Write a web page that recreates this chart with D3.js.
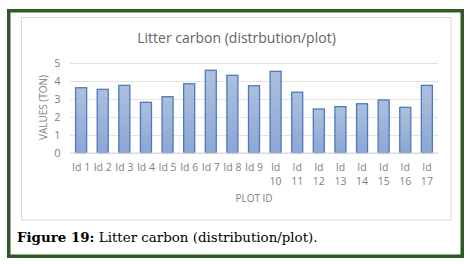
<!DOCTYPE html>
<html>
<head>
<meta charset="utf-8">
<script src="https://cdn.jsdelivr.net/npm/d3@7"></script>
<style>
  html, body { margin: 0; padding: 0; background: #fff; }
  svg { display: block; }
</style>
</head>
<body>
<svg id="chart" width="471" height="264"></svg>
<script>
const categories = ["Id 1","Id 2","Id 3","Id 4","Id 5","Id 6","Id 7","Id 8","Id 9","Id 10","Id 11","Id 12","Id 13","Id 14","Id 15","Id 16","Id 17"];
const values = [3.61, 3.52, 3.74, 2.80, 3.11, 3.83, 4.58, 4.30, 3.72, 4.52, 3.36, 2.43, 2.56, 2.72, 2.93, 2.52, 3.74];
const yTicks = [0, 1, 2, 3, 4, 5];
const chartTitle = "Litter carbon (distrbution/plot)";
const xTitle = "PLOT ID";
const yTitle = "VALUES (TON)";
const captionBold = "Figure 19:";
const captionText = " Litter carbon (distribution/plot).";

const svg = d3.select("#chart");

// outer green frame
svg.append("rect").attr("x", 8.75).attr("y", 10.75).attr("width", 453.5).attr("height", 245.5)
  .attr("fill", "#fff").attr("stroke", "#2f5a28").attr("stroke-width", 3.5);

// chart area box
svg.append("rect").attr("x", 21.5).attr("y", 17.5).attr("width", 429.5).attr("height", 202.5)
  .attr("fill", "#fff").attr("stroke", "#d9d9d9").attr("stroke-width", 1);

const x = d3.scaleBand().domain(categories).range([70, 438]).paddingInner(0.49).paddingOuter(0.26);
const y = d3.scaleLinear().domain([0, 5]).range([152.7, 62.7]);

const defs = svg.append("defs");
const grad = defs.append("linearGradient").attr("id", "barGrad").attr("x1", 0).attr("y1", 0).attr("x2", 0).attr("y2", 1);
grad.append("stop").attr("offset", "0%").attr("stop-color", "#adbfdd");
grad.append("stop").attr("offset", "100%").attr("stop-color", "#8ba7d5");

// gridlines
svg.append("g").selectAll("line").data(yTicks).join("line")
  .attr("x1", 70).attr("x2", 438)
  .attr("y1", d => Math.round(y(d)) + 0.5).attr("y2", d => Math.round(y(d)) + 0.5)
  .attr("stroke", "#e3e3e3").attr("stroke-width", 1);

// y axis labels
const yAxis = d3.axisLeft(y).tickValues(yTicks).tickFormat(d3.format("d")).tickSize(0).tickPadding(0);
const gy = svg.append("g").attr("transform", "translate(57.5,0)").call(yAxis);
gy.select(".domain").remove();
gy.selectAll("text").attr("font-family", "Open Sans, sans-serif").attr("font-size", 11)
  .attr("fill", "#7f7f7f").attr("text-anchor", "middle");

// bars
svg.append("g").selectAll("rect").data(values).join("rect")
  .attr("x", (d, i) => x(categories[i]))
  .attr("y", d => y(d))
  .attr("width", x.bandwidth())
  .attr("height", d => y(0) - y(d))
  .attr("fill", "url(#barGrad)")
  .attr("stroke", "#4e79bd").attr("stroke-width", 1.3);

// baseline
svg.append("line").attr("x1", 70).attr("x2", 438).attr("y1", 153).attr("y2", 153)
  .attr("stroke", "#d9d9d9").attr("stroke-width", 1);

// x axis labels
const xAxis = d3.axisBottom(x).tickSize(0).tickPadding(0).tickFormat("");
const gx = svg.append("g").attr("transform", "translate(0,153)").call(xAxis);
gx.select(".domain").remove();
gx.selectAll(".tick").each(function(d) {
  const t = d3.select(this).append("text")
    .attr("font-family", "Open Sans, sans-serif").attr("font-size", 10.5)
    .attr("fill", "#7f7f7f").attr("text-anchor", "middle");
  const parts = d.split(" ");
  if (parts[1].length > 1) {
    t.append("tspan").attr("x", 0).attr("y", 17.5).text(parts[0]);
    t.append("tspan").attr("x", 0).attr("y", 31.5).text(parts[1]);
  } else {
    t.append("tspan").attr("x", 0).attr("y", 17.5).text(d);
  }
});

// axis titles
svg.append("text").attr("x", 254).attr("y", 202)
  .attr("font-family", "Open Sans, sans-serif").attr("font-size", 10)
  .attr("fill", "#7f7f7f").attr("text-anchor", "middle").text(xTitle);
svg.append("text").attr("transform", "translate(46.5,107.5) rotate(-90)")
  .attr("font-family", "Open Sans, sans-serif").attr("font-size", 10)
  .attr("fill", "#7f7f7f").attr("text-anchor", "middle").text(yTitle);

// chart title
svg.append("text").attr("x", 236.5).attr("y", 43)
  .attr("font-family", "Open Sans, sans-serif").attr("font-size", 14)
  .attr("fill", "#636363").attr("text-anchor", "middle").text(chartTitle);

// caption
const cap = svg.append("text").attr("x", 17).attr("y", 242)
  .attr("font-family", "DejaVu Serif, serif").attr("font-size", 13.4).attr("fill", "#000");
cap.append("tspan").attr("font-weight", "bold").text(captionBold);
cap.append("tspan").text(captionText);
</script>
</body>
</html>
